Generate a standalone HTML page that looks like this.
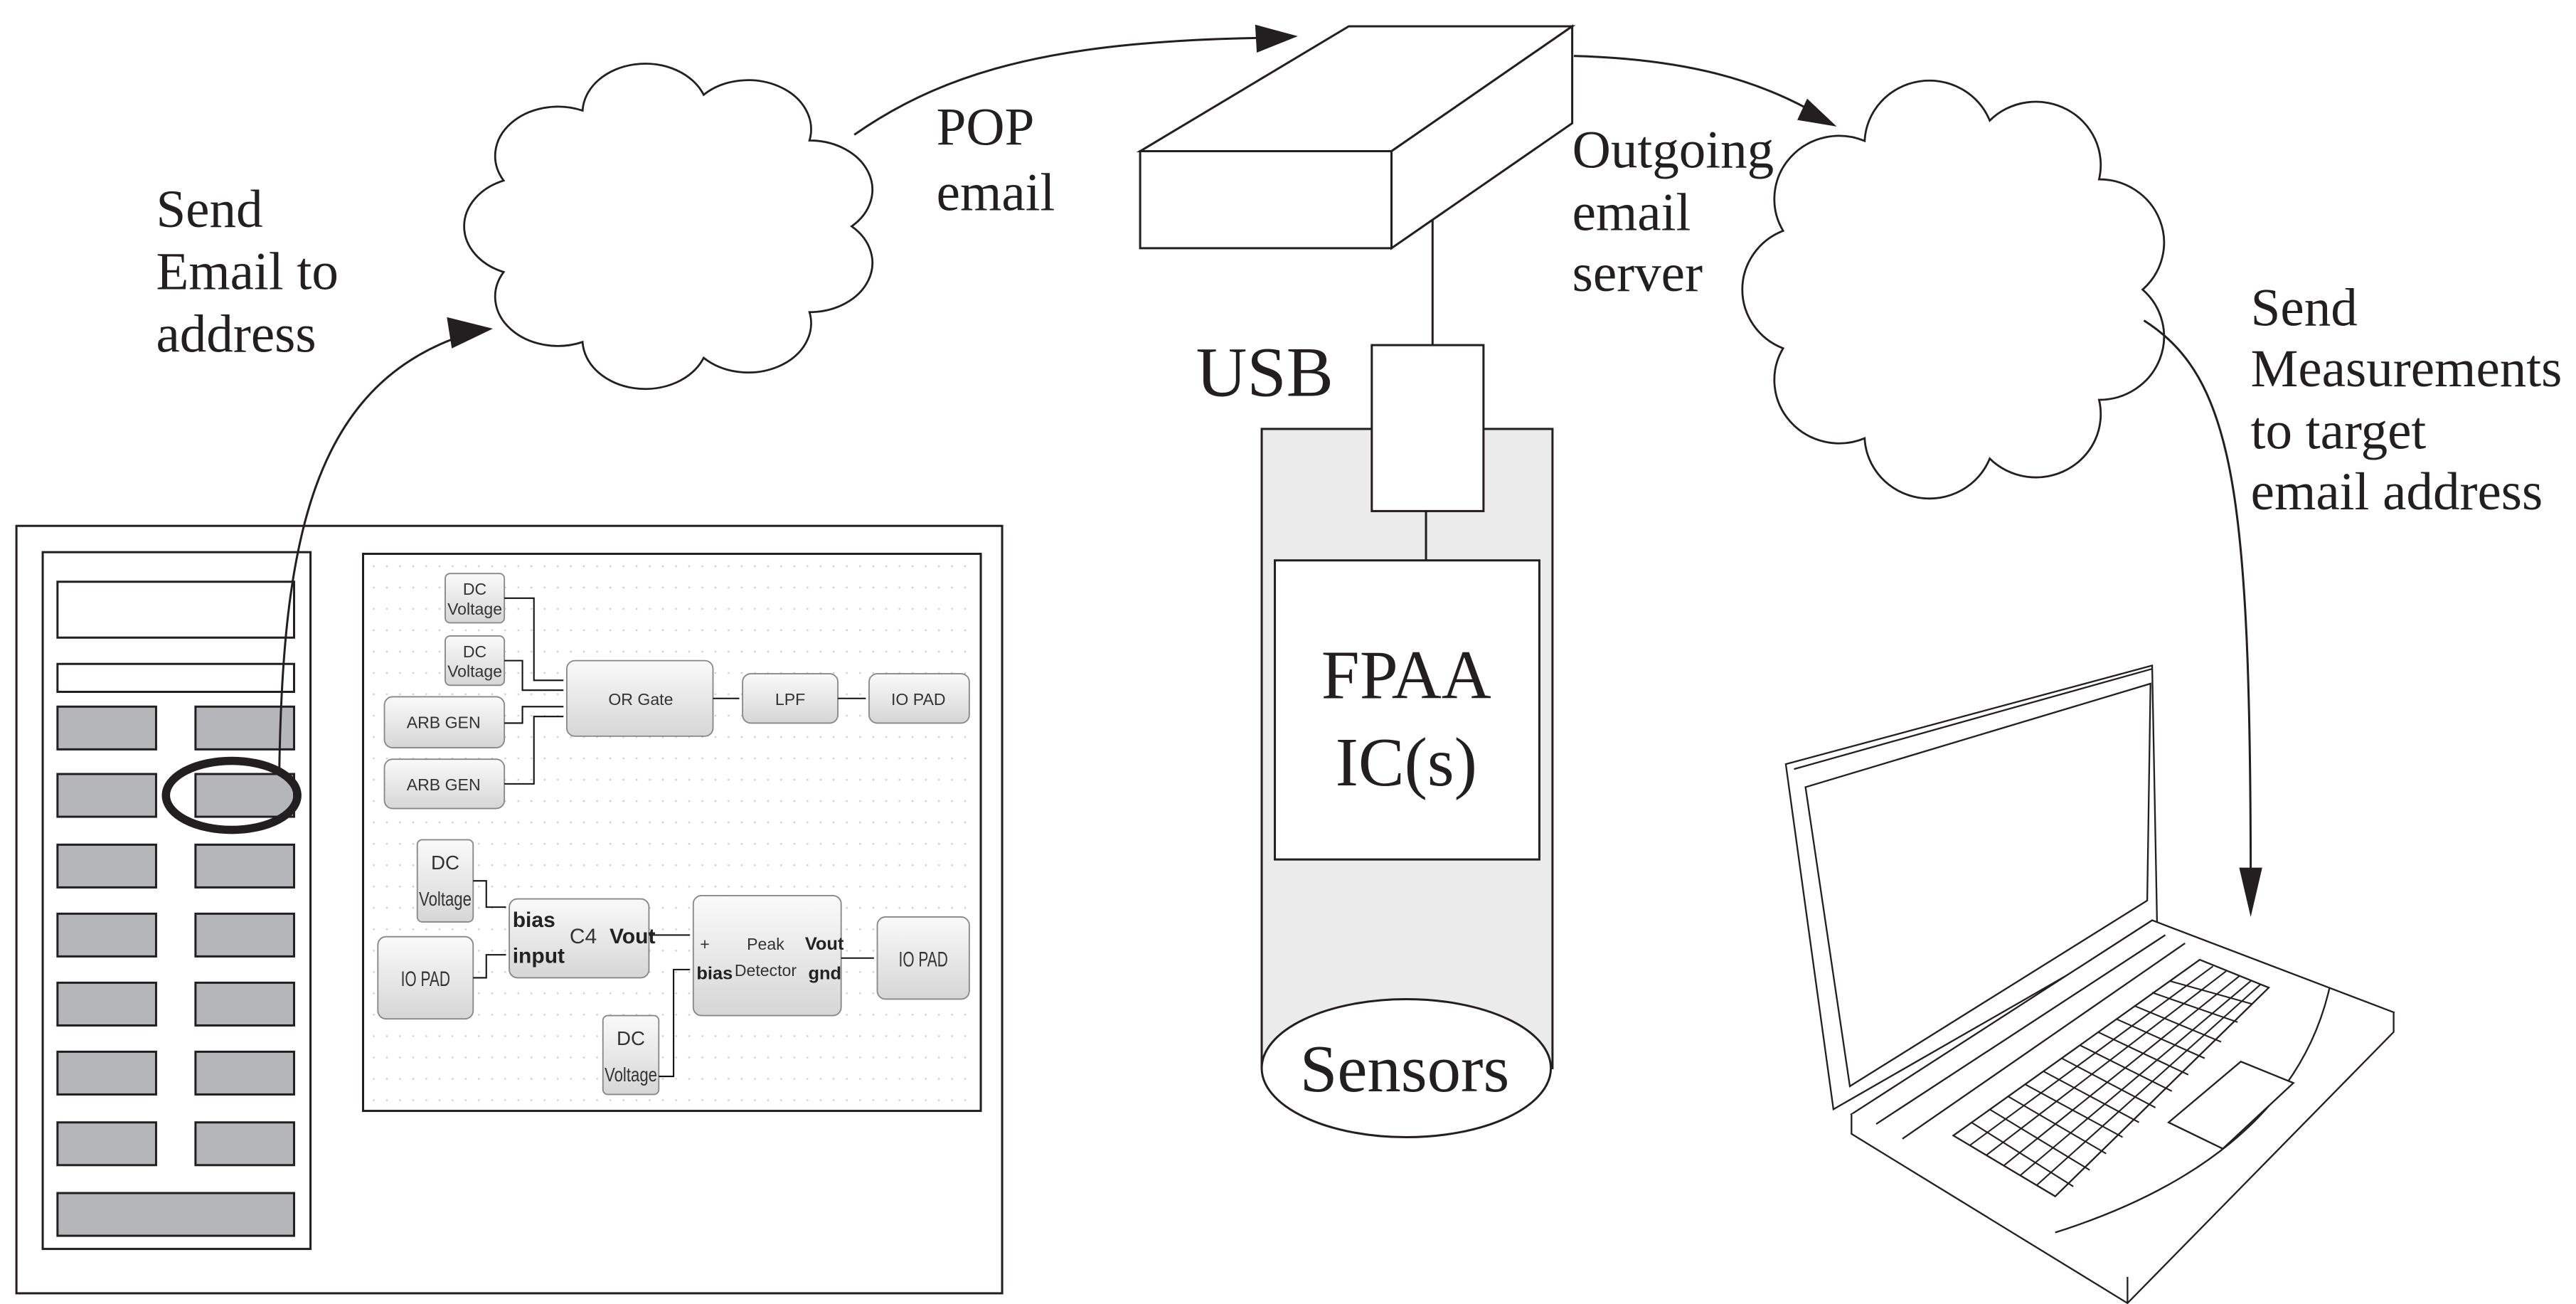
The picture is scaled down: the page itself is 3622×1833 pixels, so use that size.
<!DOCTYPE html>
<html><head><meta charset="utf-8"><style>
html,body{margin:0;padding:0;background:#fff;}
svg{display:block;}
.s{font-family:"Liberation Serif",serif;fill:#231f20;}
.n{font-family:"Liberation Sans",sans-serif;fill:#333;font-size:10px;text-anchor:middle;}
</style></head><body>
<svg width="3622" height="1833" viewBox="0 0 1568 793.5" xmlns="http://www.w3.org/2000/svg">
<defs>
<linearGradient id="g" x1="0" y1="0" x2="0" y2="1"><stop offset="0" stop-color="#fafafa"/><stop offset="1" stop-color="#d6d6d6"/></linearGradient>
<pattern id="dots" width="8" height="13" patternUnits="userSpaceOnUse"><rect x="3" y="6" width="1" height="1" fill="#ccc"/></pattern>
<g id="cloud"><path vector-effect="non-scaling-stroke" d="M90,50 A14,14 0 0 1 80.6,74.4 A14,14 0 0 1 57,87.4 A14,14 0 0 1 30,82.9 A14,14 0 0 1 12.4,63 A14,14 0 0 1 12.4,37 A14,14 0 0 1 30,17.1 A14,14 0 0 1 57,12.6 A14,14 0 0 1 80.6,25.6 A14,14 0 0 1 90,50 Z" fill="#fff" stroke="#231f20" stroke-width="2.8"/></g>
</defs>
<g fill="none" stroke="#231f20" stroke-width="1.3">
<!-- clouds -->
<use href="#cloud" transform="translate(272.7,30.7) scale(2.73,2.14)"/>
<use href="#cloud" transform="translate(1050.4,38.7) scale(2.82,2.75)"/>
<!-- connectors -->
<path d="M520,82 C580,40 650,25 770,23"/>
<polygon points="790,22 764,15 765,32" fill="#231f20" stroke="none"/>
<path d="M958,34 C1030,36 1070,50 1100,66"/>
<polygon points="1118,77 1100,60 1094,73" fill="#231f20" stroke="none"/>
<path d="M1305,195 C1360,230 1370,300 1370,540"/>
<polygon points="1370,558 1363,528 1377,528" fill="#231f20" stroke="none"/>
<!-- box -->
<polygon points="694,92 821,16 957,16 847,92" fill="#fff"/>
<polygon points="694,92 847,92 847,151 694,151" fill="#fff"/>
<polygon points="847,92 957,16 957,75 847,151" fill="#fff"/>
<line x1="872" y1="134" x2="872" y2="210"/>
<!-- cylinder -->
<rect x="768" y="261" width="177" height="389" fill="#ebebeb"/>
<ellipse cx="856" cy="650" rx="88" ry="42" fill="#fff"/>
<rect x="835" y="210" width="68" height="101" fill="#fff"/>
<line x1="868" y1="311" x2="868" y2="341"/>
<rect x="776" y="341" width="161" height="182" fill="#fff"/>
<!-- left panel -->
<rect x="10" y="320" width="600" height="467" fill="#fff"/>
<rect x="26" y="336" width="163" height="424"/>
<rect x="35" y="354" width="144" height="34"/>
<rect x="35" y="404" width="144" height="17"/>
<g fill="#b5b6b9">
<rect x="35" y="430" width="60" height="26"/><rect x="119" y="430" width="60" height="26"/>
<rect x="35" y="471" width="60" height="26"/><rect x="119" y="471" width="60" height="26"/>
<rect x="35" y="514" width="60" height="26"/><rect x="119" y="514" width="60" height="26"/>
<rect x="35" y="556" width="60" height="26"/><rect x="119" y="556" width="60" height="26"/>
<rect x="35" y="598" width="60" height="26"/><rect x="119" y="598" width="60" height="26"/>
<rect x="35" y="640" width="60" height="26"/><rect x="119" y="640" width="60" height="26"/>
<rect x="35" y="683" width="60" height="26"/><rect x="119" y="683" width="60" height="26"/>
<rect x="35" y="726" width="144" height="26"/>
</g>
<ellipse cx="141" cy="484" rx="40" ry="21" stroke-width="5"/>
<path d="M170,470 C172,330 190,235 282,204"/>
<polygon points="300,200 272,193 275,212" fill="#231f20" stroke="none"/>
<rect x="221" y="337" width="376" height="339" fill="#fff"/>
<rect x="226" y="342" width="366" height="330" fill="url(#dots)" stroke="none"/>
</g>
<!-- block diagram -->
<g stroke="#888" stroke-width="0.8" fill="url(#g)">
<rect x="271" y="349" width="36" height="30" rx="3"/>
<rect x="271" y="387" width="36" height="30" rx="3"/>
<rect x="234" y="424" width="73" height="31" rx="5"/>
<rect x="234" y="462" width="73" height="30" rx="5"/>
<rect x="345" y="402" width="89" height="46" rx="5"/>
<rect x="452" y="410" width="58" height="30" rx="5"/>
<rect x="529" y="410" width="61" height="30" rx="5"/>
<rect x="254" y="511" width="34" height="50" rx="3"/>
<rect x="230" y="570" width="58" height="50" rx="5"/>
<rect x="310" y="547" width="85" height="48" rx="5"/>
<rect x="422" y="545" width="90" height="73" rx="5"/>
<rect x="534" y="558" width="56" height="50" rx="5"/>
<rect x="367" y="618" width="34" height="48" rx="3"/>
</g>
<g stroke="#111" stroke-width="0.9" fill="none">
<polyline points="307,364 325,364 325,414 343,414"/>
<polyline points="307,402 318,402 318,420 343,420"/>
<polyline points="307,440 318,440 318,430 343,430"/>
<polyline points="307,477 325,477 325,436 343,436"/>
<line x1="434" y1="425" x2="450" y2="425"/><line x1="510" y1="425" x2="527" y2="425"/>
<polyline points="288,536 296,536 296,552 308,552"/>
<polyline points="288,595 296,595 296,581 308,581"/>
<line x1="395" y1="569" x2="420" y2="569"/>
<polyline points="401,655 410,655 410,590 420,590"/>
<line x1="512" y1="583" x2="532" y2="583"/>
</g>
<g class="n">
<text x="289" y="362">DC</text><text x="289" y="374">Voltage</text>
<text x="289" y="400">DC</text><text x="289" y="412">Voltage</text>
<text x="270" y="443">ARB GEN</text><text x="270" y="481">ARB GEN</text>
<text x="390" y="429">OR Gate</text><text x="481" y="429">LPF</text><text x="559" y="429">IO PAD</text>
<text x="271" y="529" font-size="12">DC</text><text x="271" y="551" font-size="12" textLength="32" lengthAdjust="spacingAndGlyphs">Voltage</text>
<text x="259" y="600" font-size="13" textLength="30" lengthAdjust="spacingAndGlyphs">IO PAD</text>
<text x="384" y="636" font-size="12">DC</text><text x="384" y="658" font-size="12" textLength="32" lengthAdjust="spacingAndGlyphs">Voltage</text>
<text x="562" y="588" font-size="13" textLength="30" lengthAdjust="spacingAndGlyphs">IO PAD</text>
<text x="355" y="574" font-size="13">C4</text>
<text x="466" y="578">Peak</text><text x="466" y="594">Detector</text>
<text x="429" y="578">+</text>
</g>
<g font-family="Liberation Sans,sans-serif" font-weight="bold" fill="#222">
<text x="312" y="564" font-size="13">bias</text><text x="312" y="586" font-size="13">input</text>
<text x="371" y="574" font-size="13">Vout</text>
<text x="424" y="596" font-size="11">bias</text>
<text x="490" y="578" font-size="11">Vout</text><text x="492" y="596" font-size="11">gnd</text>
</g>
<!-- laptop -->
<g fill="#fff" stroke="#231f20" stroke-width="1">
<polygon points="1087,465 1310,405 1313,562 1116,675"/>
<polygon points="1092,468 1310,407" fill="none"/>
<polygon points="1099,479 1309,416 1307,548 1126,661"/>
<polygon points="1127,678 1310,560 1457,616 1295,777"/>
<polyline points="1127,678 1127,690 1295,793 1457,628 1457,616" />
<line x1="1295" y1="777" x2="1295" y2="793"/>
<line x1="1142" y1="684" x2="1318" y2="569"/>
<line x1="1158" y1="693" x2="1330" y2="574"/>
<path d="M1251,750 C1330,725 1400,680 1418,601" fill="none"/>
<polygon points="1320,683 1364,646 1396,659 1353,699"/>
<polygon points="1189,691 1339,584 1381,601 1251,728"/>
</g>
<g stroke="#231f20" stroke-width="0.9" fill="none">
<line x1="1199" y1="697" x2="1347" y2="588"/>
<line x1="1209" y1="703" x2="1355" y2="591"/>
<line x1="1220" y1="709" x2="1363" y2="594"/>
<line x1="1230" y1="715" x2="1370" y2="597"/>
<line x1="1240" y1="721" x2="1376" y2="599"/>
<line x1="1200" y1="683" x2="1262" y2="722"/>
<line x1="1211" y1="675" x2="1272" y2="712"/>
<line x1="1222" y1="667" x2="1282" y2="702"/>
<line x1="1233" y1="660" x2="1292" y2="692"/>
<line x1="1244" y1="652" x2="1302" y2="683"/>
<line x1="1255" y1="644" x2="1312" y2="674"/>
<line x1="1266" y1="636" x2="1322" y2="664"/>
<line x1="1277" y1="628" x2="1332" y2="654"/>
<line x1="1288" y1="620" x2="1342" y2="644"/>
<line x1="1299" y1="612" x2="1352" y2="634"/>
<line x1="1310" y1="604" x2="1362" y2="622"/>
<line x1="1321" y1="597" x2="1371" y2="611"/>
</g>
<!-- labels -->
<g class="s" font-size="32.5">
<text x="95" y="138">Send</text><text x="95" y="176">Email to</text><text x="95" y="214">address</text>
<text x="570" y="88">POP</text><text x="570" y="128">email</text>
<text x="957" y="102">Outgoing</text><text x="957" y="140">email</text><text x="957" y="177">server</text>
<text x="1370" y="198">Send</text><text x="1370" y="235">Measurements</text><text x="1370" y="273">to target</text><text x="1370" y="310">email address</text>
</g>
<text class="s" x="728" y="241" font-size="43">USB</text>
<text class="s" x="856" y="425" font-size="42" text-anchor="middle">FPAA</text>
<text class="s" x="856" y="478" font-size="42" text-anchor="middle">IC(s)</text>
<text class="s" x="855" y="664" font-size="41" text-anchor="middle">Sensors</text>
</svg>
</body></html>
